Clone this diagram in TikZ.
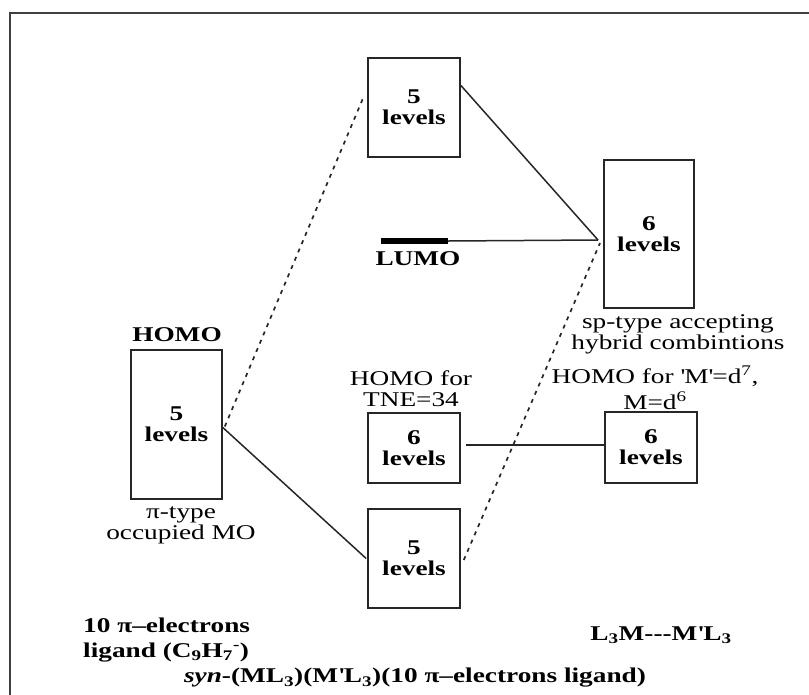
\documentclass[tikz,border=0pt]{standalone}
\usepackage{fontspec}
\setmainfont{Liberation Serif}[FakeStretch=1.3]
\usetikzlibrary{calc}
\newcommand\dfont{\fontsize{21}{21}\selectfont}
\begin{document}
\begin{tikzpicture}[x=1pt,y=-1pt,
  lvbox/.style={draw=black!85, line width=1.6pt, inner sep=0pt, align=center, font=\dfont\bfseries},
  lbl/.style={inner sep=0pt, align=center, font=\dfont},
  blbl/.style={inner sep=0pt, align=center, font=\dfont\bfseries},
  conn/.style={line width=1.5pt, draw=black!85},
  dconn/.style={conn, line width=1.7pt, dash pattern=on 4pt off 5pt}]
\useasboundingbox (0,0) rectangle (809,694);
\clip (0,0) rectangle (809,694);
\draw[line width=2pt, black!75] (10,13) rectangle (815,700);

% level boxes
\node[lvbox, minimum width=92, minimum height=99] (top5) at (414,107.5) {5\\levels};
\node[lvbox, minimum width=90, minimum height=148] (right6) at (649,234) {6\\levels};
\node[lvbox, minimum width=91, minimum height=149] (left5) at (176.5,424.5) {5\\levels};
\node[lvbox, minimum width=92, minimum height=70] (mid6) at (414,448) {6\\levels};
\node[lvbox, minimum width=92, minimum height=99] (bot5) at (414,558.5) {5\\levels};
\node[lvbox, minimum width=92, minimum height=71] (rlow6) at (651,447.5) {6\\levels};

% LUMO bar
\node[fill=black, minimum width=67, minimum height=6, inner sep=0pt] (lumobar) at (414.5,241) {};
\coordinate (hub) at (598,240);

% connectors
\draw[conn] ($(top5.north east)!0.28!(top5.south east)$) -- (hub);
\draw[conn] (lumobar.east) -- (hub);
\draw[dconn] ($(left5.east)+(2,2)$) -- ($(top5.north west)!0.38!(top5.south west)+(-3,0)$);
\draw[conn] ($(left5.east)+(0,3)$) -- ($(bot5.west)+(-1,0)$);
\draw[conn] ($(mid6.east)+(5,-3)$) -- ($(rlow6.west)+(0,-2.5)$);
\draw[dconn] ($(bot5.east)+(3,1.5)$) -- ($(hub)+(2,3)$);

% labels
\node[blbl] (lumo) at (418,259) {LUMO};
\node[blbl] (homo) at (177,335) {HOMO};
\node[lbl] (sptype) at (678,334) {sp-type accepting\\hybrid combintions};
\node[lbl] (homotne) at (411,389) {HOMO for\\TNE=34};
\node[lbl] (homomd) at (655,388) {HOMO for \textquotesingle M\textquotesingle=d\textsuperscript{7},\\[5pt]M=d\textsuperscript{6}};
\node[lbl] (pitype) at (181,525) {π-type\\occupied MO};
\node[blbl, align=left, anchor=west, font=\fontsize{21}{25}\selectfont\bfseries] (ligand) at (83,640) {10 π–electrons\\ligand (C\textsubscript{9}H\textsubscript{7}\textsuperscript{-})};
\node[blbl] (l3m) at (661,635) {L\textsubscript{3}M-{}-{}-M\textquotesingle L\textsubscript{3}};
\node[blbl] (syn) at (415,678) {\textit{syn}-(ML\textsubscript{3})(M\textquotesingle L\textsubscript{3})(10 π–electrons ligand)};
\end{tikzpicture}
\end{document}
